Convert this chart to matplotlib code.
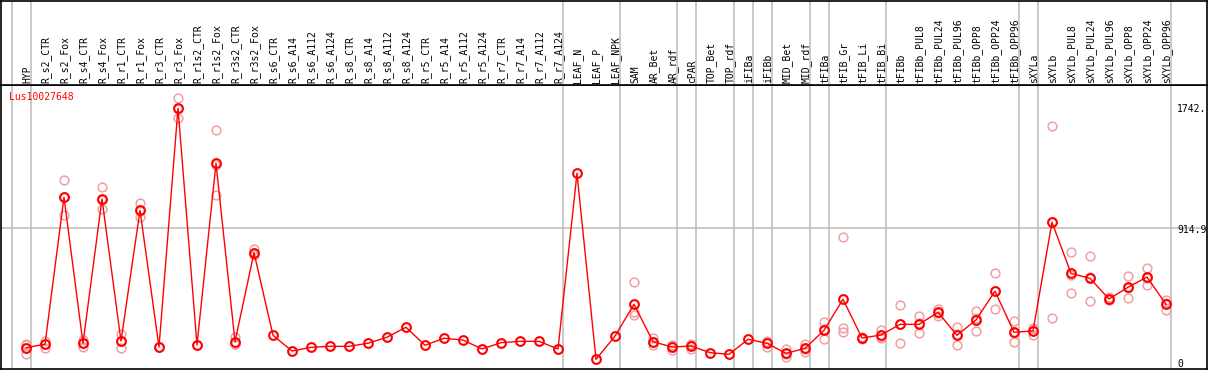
import numpy as np
import matplotlib
matplotlib.use("Agg")
import matplotlib.pyplot as plt

# sample names (one column each)
samples = ["HYP", "R_s2_CTR", "R_s2_Fox", "R_s4_CTR", "R_s4_Fox", "R_r1_CTR", "R_r1_Fox",
           "R_r3_CTR", "R_r3_Fox", "R_r1s2_CTR", "R_r1s2_Fox", "R_r3s2_CTR", "R_r3s2_Fox",
           "R_s6_CTR", "R_s6_A14", "R_s6_A112", "R_s6_A124", "R_s8_CTR", "R_s8_A14",
           "R_s8_A112", "R_s8_A124", "R_r5_CTR", "R_r5_A14", "R_r5_A112", "R_r5_A124",
           "R_r7_CTR", "R_r7_A14", "R_r7_A112", "R_r7_A124", "LEAF_N", "LEAF_P", "LEAF_NPK",
           "SAM", "AR_Bet", "AR_rdf", "cPAR", "TOP_Bet", "TOP_rdf", "iFIBa", "iFIBb",
           "MID_Bet", "MID_rdf", "tFIBa", "tFIB_Gr", "tFIB_Li", "tFIB_Bi", "tFIBb",
           "tFIBb_PUL8", "tFIBb_PUL24", "tFIBb_PUL96", "tFIBb_OPP8", "tFIBb_OPP24",
           "tFIBb_OPP96", "sXYLa", "sXYLb", "sXYLb_PUL8", "sXYLb_PUL24", "sXYLb_PUL96",
           "sXYLb_OPP8", "sXYLb_OPP24", "sXYLb_OPP96"]

# mean expression per sample
means = [98, 121, 1124, 128, 1113, 143, 1035, 102, 1732, 116, 1356, 139, 746,
         182, 75, 100, 107, 107, 128, 169, 237, 114, 162, 150, 89, 132, 141, 141, 89,
         1288, 18, 177, 394, 139, 102, 109, 64, 52, 155, 128, 59, 93, 216, 428, 164,
         184, 257, 257, 339, 182, 287, 483, 203, 212, 954, 605, 571, 430, 510, 580, 394]

# replicate values (empty where only the mean is visible)
reps = [[116, 52, 126], [143, 98, 122], [1242, 1003, 1127], [150, 105, 129],
        [1192, 1042, 1105], [191, 93, 145], [1085, 992, 1028], [102], [1802, 1666, 1728],
        [116], [1582, 1138, 1348], [169, 124, 124], [769, 742, 727],
        [], [], [], [], [], [], [], [], [], [], [], [], [], [], [], [], [], [], [],
        [544, 339, 321], [162, 116, 139], [116, 82, 108], [116, 87, 124], [], [], [],
        [143, 105, 136], [87, 36, 54], [123, 70, 86], [271, 155, 222], [851, 230, 203],
        [173, 155, 164], [218, 166, 168], [387, 128, 256], [312, 196, 263],
        [364, 316, 337], [237, 116, 193], [346, 214, 301], [605, 360, 484],
        [278, 134, 197], [230, 184, 222], [1609, 298, 955], [749, 469, 597],
        [721, 414, 578], [442, 423, 425], [585, 439, 506], [640, 524, 576],
        [423, 355, 404]]

# group separators (after these column indices)
separators = [-1, 0, 28, 31, 34, 35, 37, 38, 39, 41, 42, 45, 52, 53, 60]

gene = "Lus10027648"
tick_vals = [0, 914.9, 1742]
tick_text = ["0", "914.9", "1742."]

W, H = 1209, 370
fig = plt.figure(figsize=(W / 100, H / 100), dpi=100)

x = np.arange(len(samples))
xlim = ((1 - 26) / 19, (1207 - 26) / 19)
ylim = ((362 - 369) / 0.1465, (362 - 85) / 0.1465)

ax = fig.add_axes([1 / W, 1 / H, 1206 / W, 284 / H])
hd = fig.add_axes([1 / W, 285 / H, 1206 / W, 84.5 / H])
for a in (ax, hd):
    a.set_xlim(xlim)
    a.set_xticks([])
    a.set_yticks([])
    for s in a.spines.values():
        s.set_color("black")
        s.set_linewidth(1.2)
    for sep in separators:
        a.axvline(sep + 0.24, color="#c0c0c0", lw=1.2, zorder=0)
ax.set_ylim(ylim)
hd.set_ylim(0, 1)

ax.axhline(914.9, color="#c0c0c0", lw=1.2, zorder=0)

for i, r in enumerate(reps):
    if r:
        ax.plot([i] * len(r), r, linestyle="none", marker="o", ms=6.3, mfc="none",
                mec="#f0a0a0", mew=1.1, zorder=2)

ax.plot(x, means, color="red", lw=1, zorder=3)
ax.plot(x, means, linestyle="none", marker="o", ms=6.3, mfc="none", mec="red",
        mew=1.5, zorder=4)

# value labels on the right edge
for v, t in zip(tick_vals, tick_text):
    ax.text((1177 - 26) / 19, v - 12, t, fontsize=7, family="DejaVu Sans Mono",
            va="center", ha="left")

ax.text((9 - 26) / 19, (362 - 97) / 0.1465, gene, color="red", fontsize=7,
        family="DejaVu Sans Mono", va="center", ha="left")

for i, name in enumerate(samples):
    hd.text(i + 0.05, 0.02, name, rotation=90, fontsize=7, family="DejaVu Sans Mono",
            ha="center", va="bottom")

fig.savefig("out.png", dpi=100)
